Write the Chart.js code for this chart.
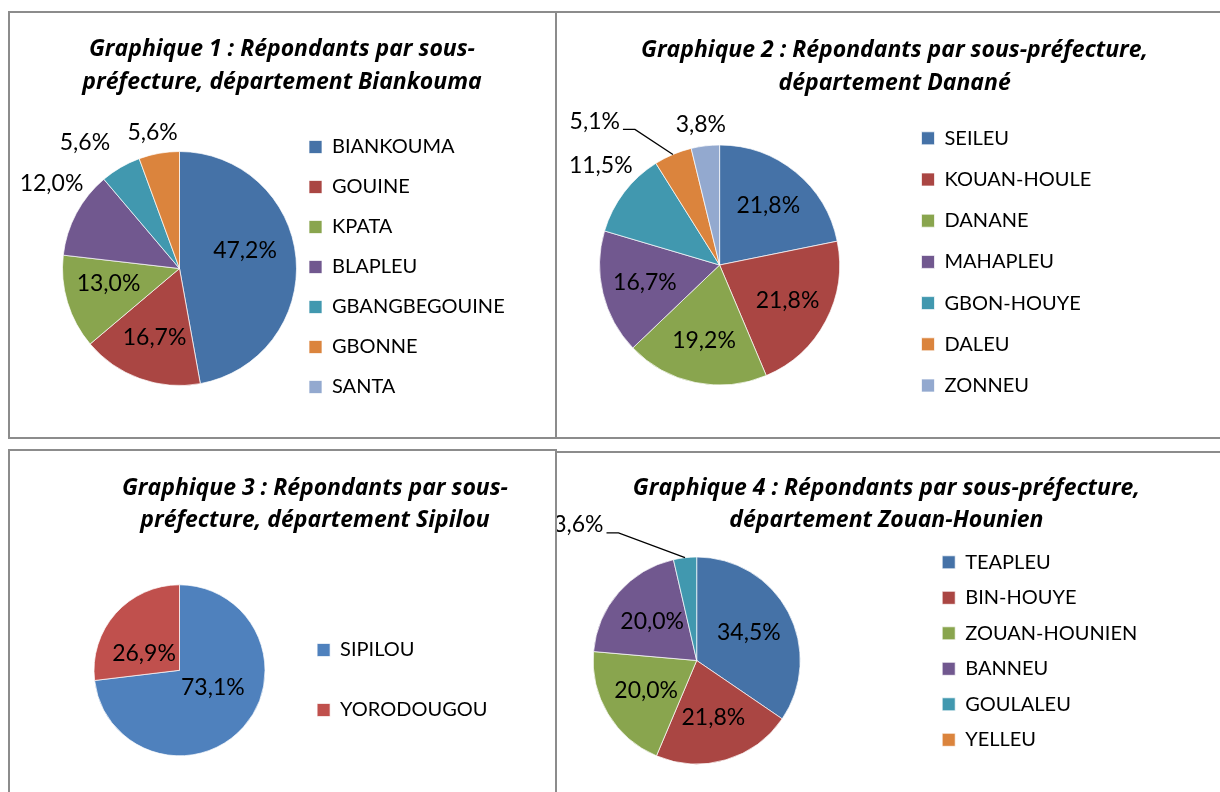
<!DOCTYPE html>
<html lang="fr">
<head>
<meta charset="utf-8">
<title>Répondants par sous-préfecture</title>
<script src="https://cdn.jsdelivr.net/npm/chart.js@4.4.1/dist/chart.umd.min.js"></script>
<style>
  html, body { margin: 0; padding: 0; background: #fff; }
  body { position: relative; width: 1220px; height: 792px; overflow: hidden; }
  .panel { position: absolute; box-sizing: border-box; border: 2px solid #8c8c8c; background: #fff; }
  canvas { position: absolute; }
</style>
</head>
<body>
<div class="panel" style="left:555px;top:451px;width:677px;height:347px"></div>
<canvas id="chart4" style="left:460px;top:453px" width="860" height="343"></canvas>
<div class="panel" style="left:8px;top:449px;width:549px;height:349px"></div>
<canvas id="chart3" style="left:10px;top:451px" width="545" height="345"></canvas>
<div class="panel" style="left:8px;top:11px;width:549px;height:428px"></div>
<canvas id="chart1" style="left:10px;top:13px" width="545" height="424"></canvas>
<div class="panel" style="left:555px;top:11px;width:677px;height:428px"></div>
<canvas id="chart2" style="left:530px;top:13px" width="730" height="424"></canvas>

<script>
// --- data ---
const biankoumaTitle = ['Graphique 1 : Répondants par sous-', 'préfecture, département Biankouma'];
const biankoumaLabels = ['BIANKOUMA', 'GOUINE', 'KPATA', 'BLAPLEU', 'GBANGBEGOUINE', 'GBONNE', 'SANTA'];
const biankoumaValues = [47.2, 16.7, 13.0, 12.0, 5.6, 5.6, 0];

const dananeTitle = ['Graphique 2 : Répondants par sous-préfecture,', 'département Danané'];
const dananeLabels = ['SEILEU', 'KOUAN-HOULE', 'DANANE', 'MAHAPLEU', 'GBON-HOUYE', 'DALEU', 'ZONNEU'];
const dananeValues = [21.8, 21.8, 19.2, 16.7, 11.5, 5.1, 3.8];

const sipilouTitle = ['Graphique 3 : Répondants par sous-', 'préfecture, département Sipilou'];
const sipilouLabels = ['SIPILOU', 'YORODOUGOU'];
const sipilouValues = [73.1, 26.9];

const zouanTitle = ['Graphique 4 : Répondants par sous-préfecture,', 'département Zouan-Hounien'];
const zouanLabels = ['TEAPLEU', 'BIN-HOUYE', 'ZOUAN-HOUNIEN', 'BANNEU', 'GOULALEU', 'YELLEU'];
const zouanValues = [34.5, 21.8, 20.0, 20.0, 3.6, 0];

const officeColors = ['#4572A7', '#AA4643', '#89A54E', '#71588F', '#4198AF', '#DB843D', '#93A9CF'];
const sipilouColors = ['#4F81BD', '#C0504D'];

const FONT = 'Lato, "Open Sans", sans-serif';
const TITLE_FONT = '"Open Sans", Lato, sans-serif';
const TITLE_SIZE = 23;

function pct(v) {
    return v.toFixed(1).replace('.', ',') + '%';
}

// legend box gets a fixed width so the title centres like the original,
// long labels may run past that box
const legendWidth = {
    id: 'legendWidth',
    beforeInit(chart, args, opts) {
        const legend = chart.legend;
        const fit = legend.fit;
        const draw = legend.draw;
        legend.fit = function () {
            fit.call(this);
            this.width = opts.width;
        };
        legend.draw = function () {
            const right = this.right;
            this.right = right + 100;
            draw.call(this);
            this.right = right;
        };
    }
};

// percentage labels, inside / outside / with leader line
const sliceLabels = {
    id: 'sliceLabels',
    afterDatasetsDraw(chart, args, opts) {
        const ctx = chart.ctx;
        const meta = chart.getDatasetMeta(0);
        const values = chart.data.datasets[0].data;
        ctx.save();
        ctx.font = opts.size + 'px ' + FONT;
        ctx.fillStyle = '#000';
        ctx.textBaseline = 'middle';
        meta.data.forEach((arc, i) => {
            const v = values[i];
            if (!v) return;
            const p = arc.getProps(['x', 'y', 'startAngle', 'endAngle', 'outerRadius'], true);
            const nudge = (opts.nudges && opts.nudges[i]) || {};
            const mid = (p.startAngle + p.endAngle) / 2 + (nudge.turn || 0) * Math.PI / 180;
            const dx = Math.cos(mid), dy = Math.sin(mid);
            const text = pct(v);
            const leader = opts.leaders && opts.leaders[i];
            if (leader) {
                const ex = p.x + dx * p.outerRadius, ey = p.y + dy * p.outerRadius;
                const bx = ex + leader.dx, by = ey + leader.dy;
                const tx = bx - leader.len;
                ctx.beginPath();
                ctx.moveTo(ex, ey);
                ctx.lineTo(bx, by);
                ctx.lineTo(tx, by);
                ctx.strokeStyle = '#000';
                ctx.lineWidth = 1.3;
                ctx.stroke();
                ctx.textAlign = 'right';
                ctx.fillText(text, tx - 3, by - 8);
            } else if (v < opts.outsideBelow) {
                const gap = nudge.gap || opts.gap;
                const hw = ctx.measureText(text).width / 2, hh = opts.size * 0.4;
                const r = p.outerRadius + gap;
                ctx.textAlign = 'center';
                ctx.fillText(text, p.x + dx * r + dx * hw, p.y + dy * r + dy * hh);
            } else {
                const r = p.outerRadius * (nudge.at || opts.inside);
                ctx.textAlign = 'center';
                ctx.fillText(text, p.x + dx * r, p.y + dy * r);
            }
        });
        ctx.restore();
    }
};

function makePie(id, title, labels, values, colors, look) {
    return new Chart(document.getElementById(id), {
        type: 'pie',
        plugins: [legendWidth, sliceLabels],
        data: {
            labels: labels,
            datasets: [{
                data: values,
                backgroundColor: colors,
                borderColor: 'rgba(255,255,255,0.7)',
                borderWidth: 1,
                radius: look.radius
            }]
        },
        options: {
            responsive: false,
            animation: false,
            devicePixelRatio: 1,
            layout: { padding: look.padding },
            plugins: {
                title: {
                    display: true,
                    text: title,
                    color: '#000',
                    font: { family: TITLE_FONT, size: TITLE_SIZE, weight: 'bold', style: 'italic', lineHeight: look.lineHeight / TITLE_SIZE },
                    padding: look.titlePadding
                },
                legend: {
                    position: 'right',
                    fullSize: false,
                    align: look.legendAlign,
                    labels: {
                        color: '#000',
                        font: { family: FONT, size: 20 },
                        boxWidth: 13,
                        boxHeight: 13,
                        padding: look.legendGap
                    }
                },
                tooltip: { enabled: false },
                legendWidth: { width: look.legendWidth },
                sliceLabels: {
                    size: 23,
                    inside: look.inside,
                    outsideBelow: 12.5,
                    gap: 12,
                    nudges: look.nudges || {},
                    leaders: look.leaders || {}
                }
            }
        }
    });
}

makePie('chart1', biankoumaTitle, biankoumaLabels, biankoumaValues, officeColors, {
    radius: 117,
    padding: { left: 60, right: 61, top: 0, bottom: 17 },
    lineHeight: 33,
    titlePadding: { top: 19.5, bottom: 18.5 },
    legendAlign: 'start',
    legendGap: 20,
    legendWidth: 205,
    inside: 0.63,
    nudges: {
        0: { turn: -10, at: 0.58 },
        2: { turn: 5, at: 0.62 },
        3: { turn: 9.6, gap: 13 },
        4: { turn: -4, gap: 26 }
    }
});

makePie('chart2', dananeTitle, dananeLabels, dananeValues, officeColors, {
    radius: 120,
    padding: { left: 8.9, right: 9.7, top: 0, bottom: 14.1 },
    lineHeight: 33,
    titlePadding: { top: 20.5, bottom: 7.6 },
    legendAlign: 'start',
    legendGap: 21.2,
    legendWidth: 350,
    inside: 0.64,
    nudges: { 4: { turn: 7, gap: 14 } },
    leaders: { 5: { dx: -38, dy: -25, len: 12 } }
});

makePie('chart3', sipilouTitle, sipilouLabels, sipilouValues, sipilouColors, {
    radius: 85.5,
    padding: { left: 71.9, right: 6.9, top: 0, bottom: 36 },
    lineHeight: 32,
    titlePadding: { top: 21.3, bottom: 44.3 },
    legendAlign: 'end',
    legendGap: 40,
    legendWidth: 271,
    inside: 0.45,
    nudges: { 0: { turn: -14, at: 0.44 }, 1: { turn: -16, at: 0.46 } }
});

makePie('chart4', zouanTitle, zouanLabels, zouanValues, officeColors, {
    radius: 103.5,
    padding: { left: 6.7, right: 13.9, top: 0, bottom: 11.8 },
    lineHeight: 32.5,
    titlePadding: { top: 18.8, bottom: 0 },
    legendAlign: 'start',
    legendGap: 15.5,
    legendWidth: 379.4,
    inside: 0.57,
    leaders: { 4: { dx: -66.5, dy: -24.7, len: 12 } }
});
</script>
</body>
</html>
